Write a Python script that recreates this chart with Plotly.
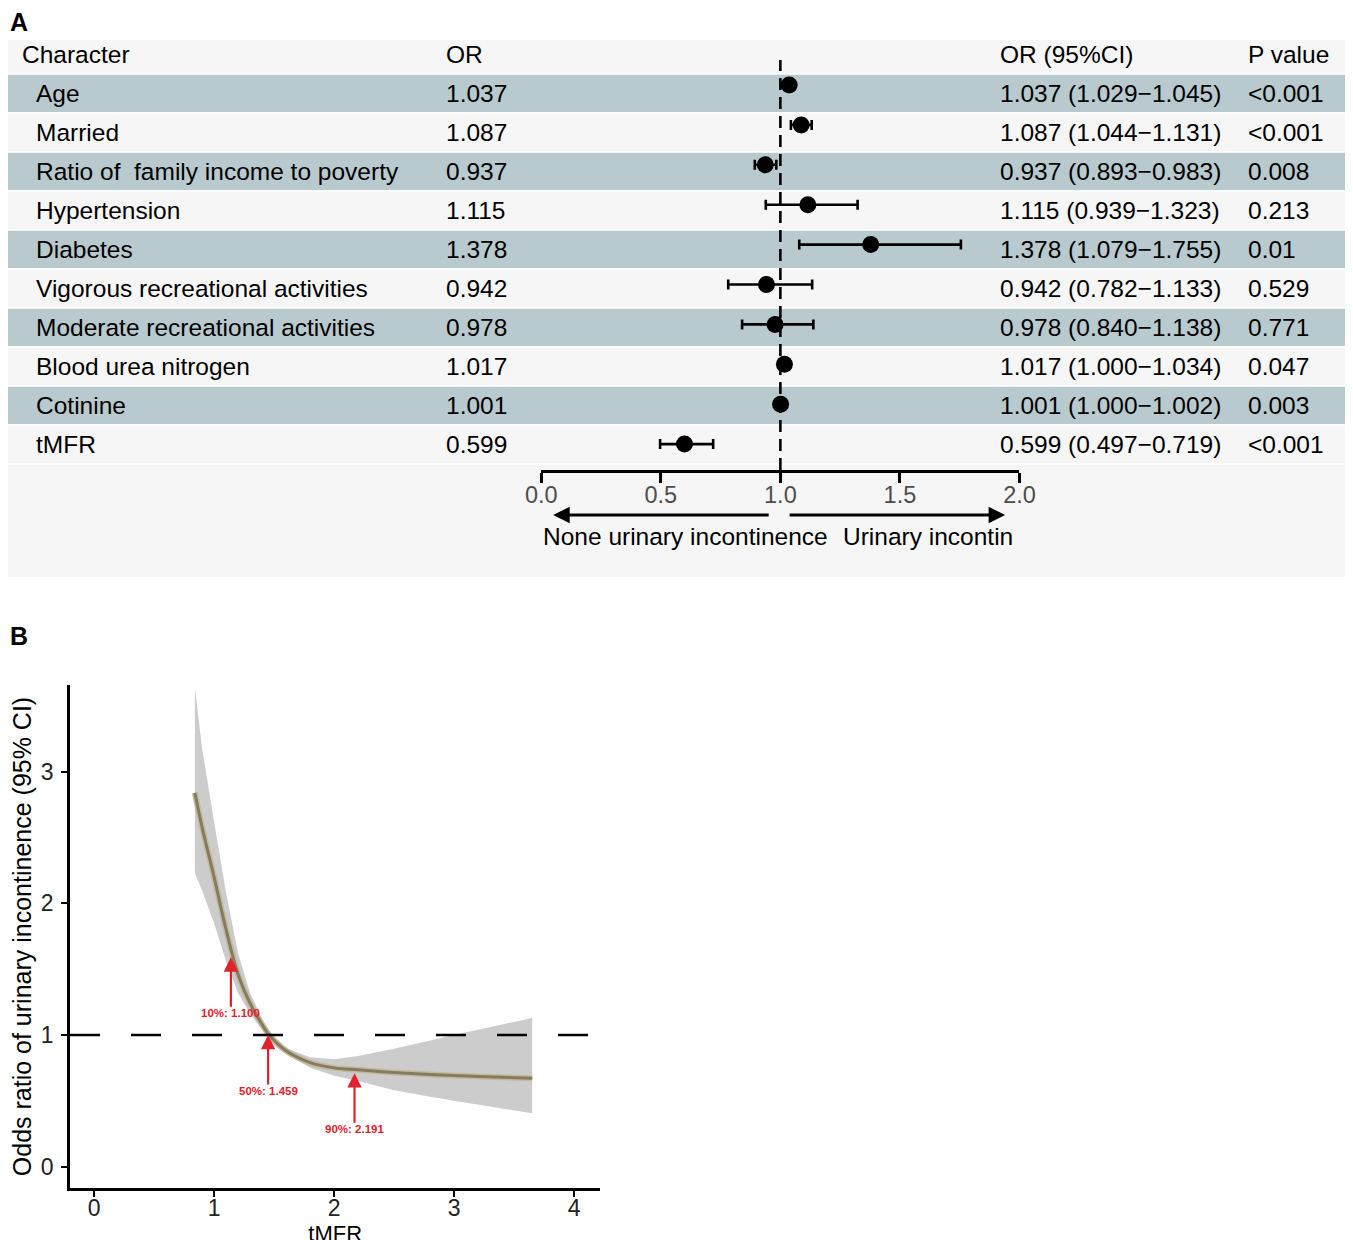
import plotly.graph_objects as go

# ---- panel A data ----
characters = ["Age", "Married", "Ratio of\u00a0 family income to poverty", "Hypertension",
              "Diabetes", "Vigorous recreational activities", "Moderate recreational activities",
              "Blood urea nitrogen", "Cotinine", "tMFR"]
odds = [1.037, 1.087, 0.937, 1.115, 1.378, 0.942, 0.978, 1.017, 1.001, 0.599]
ci_low = [1.029, 1.044, 0.893, 0.939, 1.079, 0.782, 0.840, 1.000, 1.000, 0.497]
ci_high = [1.045, 1.131, 0.983, 1.323, 1.755, 1.133, 1.138, 1.034, 1.002, 0.719]
p_values = ["&lt;0.001", "&lt;0.001", "0.008", "0.213", "0.01", "0.529", "0.771", "0.047", "0.003", "&lt;0.001"]
forest_ticks = [0, 0.5, 1.0, 1.5, 2.0]

# ---- panel B data ----
tmfr = [0.84, 0.9, 1.0, 1.1, 1.2, 1.3, 1.4, 1.459, 1.6, 1.8, 2.0, 2.2, 2.5, 2.8, 3.1, 3.4, 3.65]
or_fit = [2.84, 2.58, 2.20, 1.80, 1.46, 1.24, 1.08, 1.00, 0.88, 0.79, 0.75, 0.735, 0.715, 0.70, 0.688, 0.678, 0.671]
or_upper = [3.64, 3.18, 2.62, 2.08, 1.62, 1.32, 1.12, 1.00, 0.90, 0.83, 0.815, 0.84, 0.895, 0.96, 1.02, 1.08, 1.13]
or_lower = [2.23, 2.10, 1.85, 1.56, 1.32, 1.16, 1.04, 1.00, 0.86, 0.75, 0.69, 0.65, 0.58, 0.53, 0.485, 0.44, 0.405]
q_x = [1.14, 1.45, 2.17]
q_y = [1.59, 1.0, 0.71]
q_labels = ["10%: 1.100", "50%: 1.459", "90%: 2.191"]

# the photographed page is offset and slightly squeezed, measured from earlier runs
W, H = 1360, 1240
OX, OY = 24, 8
SX, SY = 0.976, 1.0
FONT = "Liberation Sans, Arial, sans-serif"
TEAL = "#b8cacd"
LIGHT = "#f6f6f6"
RED = "#e3212b"
FS = 24.5


def px(p):
    return (p - OX) / SX / W


def py(p):
    return 1 - (p - OY) / SY / H


fig = go.Figure()

# forest points
fig.add_trace(go.Scatter(
    x=odds, y=list(range(len(odds))), mode="markers",
    marker=dict(color="black", size=17),
    error_x=dict(type="data", symmetric=False,
                 array=[h - o for h, o in zip(ci_high, odds)],
                 arrayminus=[o - l for o, l in zip(odds, ci_low)],
                 color="black", thickness=2.6, width=5),
    xaxis="x", yaxis="y", showlegend=False, hoverinfo="skip"))

# RCS band + curve
fig.add_trace(go.Scatter(
    x=tmfr + tmfr[::-1], y=or_upper + or_lower[::-1], fill="toself",
    fillcolor="#cccccc", line=dict(width=0), mode="lines",
    xaxis="x2", yaxis="y2", showlegend=False, hoverinfo="skip"))
fig.add_trace(go.Scatter(
    x=tmfr, y=or_fit, mode="lines", line=dict(color="#c2ba9f", width=6, shape="spline"),
    xaxis="x2", yaxis="y2", showlegend=False, hoverinfo="skip"))
fig.add_trace(go.Scatter(
    x=tmfr, y=or_fit, mode="lines", line=dict(color="#857c60", width=3, shape="spline"),
    xaxis="x2", yaxis="y2", showlegend=False, hoverinfo="skip"))

shapes = []
# panel A background
shapes.append(dict(type="rect", xref="paper", yref="paper", x0=-0.05, x1=1.05, y0=py(577), y1=py(40),
                   fillcolor=LIGHT, line=dict(width=0), layer="below"))
for i in range(len(characters)):
    top = 74 + 39 * i
    shapes.append(dict(type="rect", xref="paper", yref="paper", x0=-0.05, x1=1.05,
                       y0=py(top + 39), y1=py(top),
                       fillcolor=TEAL if i % 2 == 0 else LIGHT,
                       line=dict(color="white", width=1.5), layer="below"))
# reference line at OR = 1
shapes.append(dict(type="line", xref="x", yref="y domain", x0=1, x1=1, y0=0, y1=1,
                   line=dict(color="black", width=2.6, dash="12px,7px"), layer="below"))
# panel B reference line
shapes.append(dict(type="line", xref="x2 domain", yref="y2", x0=0, x1=1, y0=1, y1=1,
                   line=dict(color="black", width=2.6, dash="30px,31px"), layer="above"))

ann = []
ann.append(dict(text="<b>A</b>", xref="paper", yref="paper", x=px(8), y=py(22),
                xanchor="left", yanchor="middle", showarrow=False, font=dict(size=25, color="black")))
ann.append(dict(text="<b>B</b>", xref="paper", yref="paper", x=px(8), y=py(636),
                xanchor="left", yanchor="middle", showarrow=False, font=dict(size=25, color="black")))

headers = [("Character", 20), ("OR", 444), ("OR (95%CI)", 998), ("P value", 1245)]
for txt, xp in headers:
    ann.append(dict(text=txt, xref="paper", yref="paper", x=px(xp), y=py(55),
                    xanchor="left", yanchor="middle", showarrow=False, font=dict(size=FS, color="black")))

for i, name in enumerate(characters):
    yc = py(93.5 + 39 * i)
    cells = [(name, 34), (f"{odds[i]:.3f}", 444),
             (f"{odds[i]:.3f} ({ci_low[i]:.3f}\u2212{ci_high[i]:.3f})", 998),
             (p_values[i], 1245)]
    for txt, xp in cells:
        ann.append(dict(text=txt, xref="paper", yref="paper", x=px(xp), y=yc,
                        xanchor="left", yanchor="middle", showarrow=False,
                        font=dict(size=FS, color="black")))

# direction arrows under forest axis
ann.append(dict(text="", xref="x", yref="paper", x=0.05, y=py(515), axref="pixel", ayref="pixel",
                ax=217, ay=0, showarrow=True, arrowhead=2, arrowsize=1.1, arrowwidth=3, arrowcolor="black"))
ann.append(dict(text="", xref="x", yref="paper", x=1.94, y=py(515), axref="pixel", ayref="pixel",
                ax=-217, ay=0, showarrow=True, arrowhead=2, arrowsize=1.1, arrowwidth=3, arrowcolor="black"))
ann.append(dict(text="None urinary incontinence", xref="paper", yref="paper", x=px(685), y=py(536),
                xanchor="center", yanchor="middle", showarrow=False, font=dict(size=FS, color="black")))
ann.append(dict(text="Urinary incontin", xref="paper", yref="paper", x=px(841), y=py(536),
                xanchor="left", yanchor="middle", showarrow=False, font=dict(size=FS, color="black")))

# quantile arrows
for xq, yq, lab in zip(q_x, q_y, q_labels):
    ann.append(dict(text="<b>" + lab + "</b>", xref="x2", yref="y2", x=xq, y=yq,
                    axref="pixel", ayref="pixel", ax=0, ay=56, showarrow=True,
                    arrowhead=2, arrowsize=1.3, arrowwidth=2.2, arrowcolor=RED, standoff=0,
                    borderpad=0, font=dict(size=11.5, color=RED)))

fig.update_layout(
    width=W, height=H, margin=dict(l=0, r=0, t=0, b=0),
    paper_bgcolor="white", plot_bgcolor="rgba(0,0,0,0)",
    font=dict(family=FONT, color="black"),
    shapes=shapes, annotations=ann,
    xaxis=dict(domain=[px(541), px(1019)], range=[0, 2], anchor="y",
               tickvals=forest_ticks, ticktext=[f"{t:.1f}" for t in forest_ticks],
               showline=True, linecolor="black", linewidth=3, ticks="outside", ticklen=10,
               tickwidth=3, tickcolor="black", tickfont=dict(size=23.5, color="#4d4d4d"),
               ticklabelstandoff=-8, showgrid=False, zeroline=False),
    yaxis=dict(domain=[py(470), py(60)], range=[(470 - 85) / 39.9, (60 - 85) / 39.9],
               anchor="x", visible=False, showgrid=False, zeroline=False),
    xaxis2=dict(domain=[px(70), px(600)], range=[-0.2, 4.217], anchor="y2",
                tickvals=[0, 1, 2, 3, 4], showline=True, linecolor="black", linewidth=2.6,
                ticks="outside", ticklen=6, tickwidth=2, tickcolor="black",
                tickfont=dict(size=23, color="#222222"), showgrid=False, zeroline=False,
                ticklabelstandoff=-8,
                title=dict(text="tMFR", font=dict(size=22, color="black"), standoff=1)),
    yaxis2=dict(domain=[py(1188), py(685)], range=[-0.163, 3.66], anchor="x2",
                tickvals=[0, 1, 2, 3], showline=True, linecolor="black", linewidth=2.6,
                ticks="outside", ticklen=6, tickwidth=2, tickcolor="black",
                tickfont=dict(size=23, color="#222222"), showgrid=False, zeroline=False,
                ticklabelstandoff=3,
                title=dict(text="Odds ratio of urinary incontinence (95% CI)",
                           font=dict(size=25, color="black"), standoff=6)),
)

fig.write_html("out.html")
